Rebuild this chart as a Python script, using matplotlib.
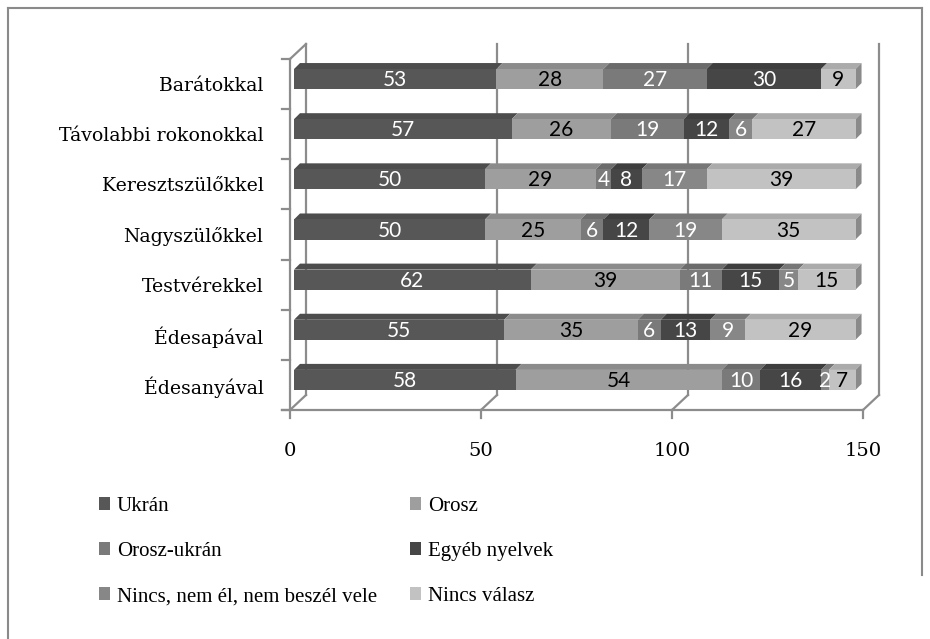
import matplotlib.pyplot as plt
from matplotlib.patches import Polygon, Patch
from matplotlib.lines import Line2D
from matplotlib.transforms import ScaledTranslation
import matplotlib.colors as mcolors

# categories, bottom to top
categories = ['Édesanyával', 'Édesapával', 'Testvérekkel', 'Nagyszülőkkel',
              'Keresztszülőkkel', 'Távolabbi rokonokkal', 'Barátokkal']
series = ['Ukrán', 'Orosz', 'Orosz-ukrán', 'Egyéb nyelvek',
          'Nincs, nem él, nem beszél vele', 'Nincs válasz']

ukran = [58, 55, 62, 50, 50, 57, 53]
orosz = [54, 35, 39, 25, 29, 26, 28]
orosz_ukran = [10, 6, 11, 6, 4, 19, 27]
egyeb = [16, 13, 15, 12, 8, 12, 30]
nincs = [2, 9, 5, 19, 17, 6, 0]
nincs_valasz = [7, 29, 15, 35, 39, 27, 9]
values = [ukran, orosz, orosz_ukran, egyeb, nincs, nincs_valasz]

colors = ['#575757', '#9e9e9e', '#7a7a7a', '#464646', '#878787', '#c2c2c2']
text_colors = ['white', 'black', 'white', 'white', 'white', 'black']
xticks = [0, 50, 100, 150]

W, H = 930, 639
fig = plt.figure(figsize=(W / 100, H / 100), dpi=100)

# plane of the bars' front faces
ax = fig.add_axes([294 / W, 1 - 405 / H, 573 / W, 351 / H])
ax.set_xlim(0, 150)
ax.set_ylim(-0.5, 6.5)
for s in ax.spines.values():
    s.set_visible(False)

ux = 150 / 573   # data units per pixel
uy = 7 / 351

def off(dx, dy):
    return dx * ux, dy * uy

fx, fy = off(-4, -5)    # front plane (axis lines)
bx, by = off(12, 10)    # back wall
dx, dy = off(6, 6)      # depth of a bar
grid_c = '#8c8c8c'
lw = 1.6

# walls and floor
for v in xticks:
    ax.plot([v + bx, v + bx], [-0.5 + by, 6.5 + by], color=grid_c, lw=lw, clip_on=False, zorder=1)
    ax.plot([v + fx, v + bx], [-0.5 + fy, -0.5 + by], color=grid_c, lw=lw, clip_on=False, zorder=1)
    ax.plot([v + fx, v + fx], [-0.5 + fy, -0.5 + fy - 8 * uy], color=grid_c, lw=lw, clip_on=False, zorder=1)
ax.plot([fx - 8 * ux, 150 + fx], [-0.5 + fy, -0.5 + fy], color=grid_c, lw=lw, clip_on=False, zorder=1)
ax.plot([fx, fx], [-0.5 + fy, 6.5 + fy], color=grid_c, lw=lw, clip_on=False, zorder=1)
ax.plot([fx, bx], [6.5 + fy, 6.5 + by], color=grid_c, lw=lw, clip_on=False, zorder=1)
for i in range(8):
    yb = i - 0.5 + fy
    ax.plot([fx - 8 * ux, fx], [yb, yb], color=grid_c, lw=lw, clip_on=False, zorder=1)

# stacked 3D-ish bars
h = 0.4
left = [0] * len(categories)
handles = []
for k, vals in enumerate(values):
    col = colors[k]
    rgb = mcolors.to_rgb(col)
    top_c = tuple(c * 0.88 for c in rgb)
    ax.barh(range(len(categories)), vals, left=left, height=h, color=col, lw=0, zorder=3)
    for i, v in enumerate(vals):
        if v == 0:
            continue
        l, r = left[i], left[i] + v
        ax.add_patch(Polygon([(l, i + h / 2), (r, i + h / 2), (r + dx, i + h / 2 + dy), (l + dx, i + h / 2 + dy)],
                             closed=True, facecolor=top_c, lw=0, zorder=2.5))
        ax.text((l + r) / 2, i - 0.02, str(v), ha='center', va='center', color=text_colors[k],
                fontsize=15, family='Lato', zorder=5)
    left = [a + b for a, b in zip(left, vals)]
    handles.append(Patch(facecolor=col, edgecolor='none'))

# right side faces
for i, r in enumerate(left):
    ax.add_patch(Polygon([(r, i - h / 2), (r, i + h / 2), (r + dx, i + h / 2 + dy), (r + dx, i - h / 2 + dy)],
                         closed=True, facecolor='#8a8a8a', lw=0, zorder=2.5))

# tick labels
ax.set_xticks(xticks)
ax.set_xticklabels([str(t) for t in xticks], family='DejaVu Serif', fontsize=14)
ax.set_yticks(range(len(categories)))
ax.set_yticklabels(categories, family='DejaVu Serif', fontsize=13.6)
ax.tick_params(axis='x', length=0, pad=27)
ax.tick_params(axis='y', length=0, pad=22)
shift_x = ScaledTranslation(-4 / 100, 0, fig.dpi_scale_trans)
shift_y = ScaledTranslation(0, -5 / 100, fig.dpi_scale_trans)
for lab in ax.get_xticklabels():
    lab.set_transform(lab.get_transform() + shift_x)
for lab in ax.get_yticklabels():
    lab.set_transform(lab.get_transform() + shift_y)

# legend in two columns
order = [[0, 2, 4], [1, 3, 5]]
for col_i, idx in enumerate(order):
    x0 = [99, 410][col_i]
    fig.legend([handles[j] for j in idx], [series[j] for j in idx],
               loc='upper left', bbox_to_anchor=(x0 / W, 1 - 497 / H),
               frameon=False, prop={'family': 'Liberation Serif', 'size': 15},
               handlelength=0.55, handleheight=0.55, handletextpad=0.3,
               labelspacing=1.25, borderpad=0, borderaxespad=0)

# outer border
bc = '#8a8a8a'
fig.add_artist(Line2D([8 / W, 8 / W], [0, 1 - 8 / H], color=bc, lw=1.5))
fig.add_artist(Line2D([8 / W, 922 / W], [1 - 8 / H, 1 - 8 / H], color=bc, lw=1.5))
fig.add_artist(Line2D([922 / W, 922 / W], [1 - 575 / H, 1 - 8 / H], color=bc, lw=1.5))

fig.savefig('out.png', dpi=100)
